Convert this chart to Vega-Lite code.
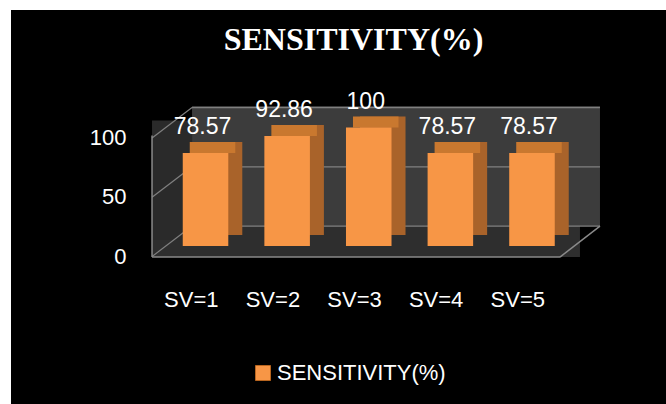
{
  "$schema": "https://vega.github.io/schema/vega-lite/v6.json",
  "width": 655,
  "height": 394,
  "autosize": {"type": "none"},
  "padding": {"left": 11, "top": 10, "right": 0, "bottom": 0},
  "background": "#ffffff",
  "config": {
    "view": {"stroke": null, "fill": "#000000"},
    "font": "Liberation Sans"
  },
  "title": {
    "text": "SENSITIVITY(%)",
    "font": "Liberation Serif",
    "fontSize": 32,
    "fontWeight": "bold",
    "color": "#ffffff",
    "anchor": "middle",
    "frame": "group",
    "baseline": "alphabetic",
    "offset": -72,
    "dx": 15
  },
  "datasets": {
    "bars": [
      {"sv": "SV=1", "value": 78.57, "series": "SENSITIVITY(%)"},
      {"sv": "SV=2", "value": 92.86, "series": "SENSITIVITY(%)"},
      {"sv": "SV=3", "value": 100, "series": "SENSITIVITY(%)"},
      {"sv": "SV=4", "value": 78.57, "series": "SENSITIVITY(%)"},
      {"sv": "SV=5", "value": 78.57, "series": "SENSITIVITY(%)"}
    ],
    "grid": [{"g": 0}, {"g": 50}, {"g": 100}],
    "one": [{"k": 1}]
  },
  "data": {"name": "bars"},
  "layer": [
    {
      "data": {"name": "one"},
      "mark": {"type": "rect", "color": "#3c3c3c", "xOffset": -13.5, "x2Offset": 68, "yOffset": -21.5, "y2Offset": -20},
      "encoding": {
        "x": {"datum": "SV=1", "type": "nominal", "bandPosition": 0.5, "title": null},
        "x2": {"datum": "SV=5", "bandPosition": 0.5},
        "y": {"datum": 100, "type": "quantitative", "title": null},
        "y2": {"datum": 0}
      }
    },
    {
      "data": {"name": "one"},
      "mark": {"type": "rect", "color": "#2e2e2e", "xOffset": -53.5, "x2Offset": 48, "yOffset": -20, "y2Offset": 11},
      "encoding": {
        "x": {"datum": "SV=1", "type": "nominal", "bandPosition": 0.5, "title": null},
        "x2": {"datum": "SV=5", "bandPosition": 0.5},
        "y": {"datum": 0, "type": "quantitative", "title": null},
        "y2": {"datum": 0}
      }
    },
    {
      "data": {"name": "one"},
      "mark": {"type": "rect", "color": "#2a2a2a", "xOffset": -53.5, "x2Offset": -13.5, "yOffset": -7, "y2Offset": -6},
      "encoding": {
        "x": {"datum": "SV=1", "type": "nominal", "bandPosition": 0.5, "title": null},
        "x2": {"datum": "SV=1", "bandPosition": 0.5},
        "y": {"datum": 100, "type": "quantitative", "title": null},
        "y2": {"datum": 0}
      }
    },
    {
      "data": {"name": "grid"},
      "mark": {"type": "rule", "color": "#808080", "strokeWidth": 1.2, "xOffset": -13.5, "x2Offset": 68, "yOffset": -20},
      "encoding": {
        "x": {"datum": "SV=1", "type": "nominal", "bandPosition": 0.5, "title": null},
        "x2": {"datum": "SV=5", "bandPosition": 0.5},
        "y": {"field": "g", "type": "quantitative", "title": null}
      }
    },
    {
      "data": {"name": "grid"},
      "mark": {"type": "rule", "color": "#808080", "strokeWidth": 1.2, "xOffset": -53.5, "x2Offset": -13.5, "yOffset": 10.5, "y2Offset": -20},
      "encoding": {
        "x": {"datum": "SV=1", "type": "nominal", "bandPosition": 0.5, "title": null},
        "x2": {"datum": "SV=1", "bandPosition": 0.5},
        "y": {"field": "g", "type": "quantitative", "title": null},
        "y2": {"field": "g"}
      }
    },
    {
      "data": {"name": "one"},
      "mark": {"type": "rule", "color": "#8a8a8a", "strokeWidth": 1.5, "xOffset": -53.5, "yOffset": 11, "y2Offset": 8},
      "encoding": {
        "x": {"datum": "SV=1", "type": "nominal", "bandPosition": 0.5, "title": null},
        "y": {"datum": 0, "type": "quantitative", "title": null},
        "y2": {"datum": 100}
      }
    },
    {
      "data": {"name": "one"},
      "mark": {"type": "rule", "color": "#8a8a8a", "strokeWidth": 1.5, "xOffset": -53.5, "x2Offset": 28, "yOffset": 11},
      "encoding": {
        "x": {"datum": "SV=1", "type": "nominal", "bandPosition": 0.5, "title": null},
        "x2": {"datum": "SV=5", "bandPosition": 0.5},
        "y": {"datum": 0, "type": "quantitative", "title": null}
      }
    },
    {
      "data": {"name": "one"},
      "mark": {"type": "rule", "color": "#8a8a8a", "strokeWidth": 1.5, "xOffset": 28, "x2Offset": 68, "yOffset": 11, "y2Offset": -20},
      "encoding": {
        "x": {"datum": "SV=5", "type": "nominal", "bandPosition": 0.5, "title": null},
        "x2": {"datum": "SV=5", "bandPosition": 0.5},
        "y": {"datum": 0, "type": "quantitative", "title": null},
        "y2": {"datum": 0}
      }
    },
    {
      "mark": {"type": "bar", "color": "#a9632a", "xOffset": 14, "yOffset": -11, "y2Offset": -11},
      "encoding": {
        "x": {"field": "sv", "type": "nominal", "title": null},
        "y": {"field": "value", "type": "quantitative", "title": null},
        "y2": {"datum": 0}
      }
    },
    {
      "mark": {"type": "bar", "color": "#c9782f", "xOffset": 7, "yOffset": -11},
      "encoding": {
        "x": {"field": "sv", "type": "nominal", "title": null},
        "y": {"field": "value", "type": "quantitative", "title": null},
        "y2": {"field": "value"}
      }
    },
    {
      "mark": {"type": "bar"},
      "encoding": {
        "x": {
          "field": "sv",
          "type": "nominal",
          "scale": {"domain": ["SV=1", "SV=2", "SV=3", "SV=4", "SV=5"], "range": [171.75, 543.75], "paddingInner": 0.442, "paddingOuter": 0},
          "axis": {
            "title": null,
            "orient": "bottom",
            "offset": -98,
            "domain": false,
            "ticks": false,
            "tickSize": 0,
            "grid": false,
            "labelPadding": 0,
            "labelBaseline": "alphabetic",
            "labelOffset": 13,
            "labelAngle": 0,
            "labelFont": "Liberation Sans",
            "labelFontSize": 22,
            "labelColor": "#ffffff"
          }
        },
        "y": {
          "field": "value",
          "type": "quantitative",
          "scale": {"domain": [-133.3, 199.2], "nice": false, "zero": false},
          "axis": {
            "title": null,
            "orient": "left",
            "offset": -115,
            "values": [0, 50, 100],
            "domain": false,
            "ticks": false,
            "tickSize": 0,
            "grid": false,
            "labelPadding": 0,
            "labelOffset": 10,
            "labelBaseline": "middle",
            "labelFont": "Liberation Sans",
            "labelFontSize": 22,
            "labelColor": "#ffffff"
          }
        },
        "y2": {"datum": 0},
        "color": {
          "field": "series",
          "type": "nominal",
          "scale": {"range": ["#f79646"]},
          "legend": {
            "title": null,
            "orient": "none",
            "legendX": 241,
            "legendY": 352,
            "symbolType": "square",
            "symbolSize": 225,
            "symbolStrokeColor": "#b8651f",
            "symbolStrokeWidth": 1,
            "labelFont": "Liberation Sans",
            "labelFontSize": 22,
            "labelColor": "#ffffff",
            "labelOffset": 3,
            "labelLimit": 0
          }
        }
      }
    },
    {
      "mark": {"type": "text", "color": "#ffffff", "font": "Liberation Sans", "fontSize": 23, "baseline": "alphabetic", "dx": -3, "dy": -19},
      "encoding": {
        "x": {"field": "sv", "type": "nominal", "title": null},
        "y": {"field": "value", "type": "quantitative", "title": null},
        "text": {"field": "value", "type": "quantitative"}
      }
    }
  ]
}
